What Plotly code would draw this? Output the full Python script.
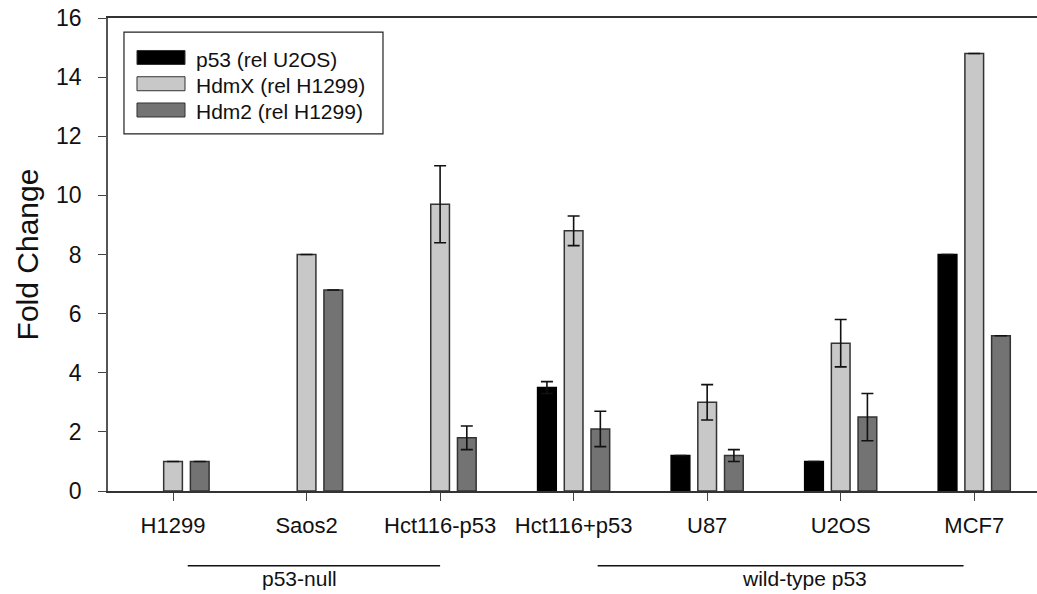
import plotly.graph_objects as go

# Cell lines and measured fold changes
cell_lines = ["H1299", "Saos2", "Hct116-p53", "Hct116+p53", "U87", "U2OS", "MCF7"]
series_names = ["p53 (rel U2OS)", "HdmX (rel H1299)", "Hdm2 (rel H1299)"]

p53_vals = [None, None, None, 3.5, 1.2, 1.0, 8.0]
p53_err = [None, None, None, 0.2, None, None, None]
hdmx_vals = [1.0, 8.0, 9.7, 8.8, 3.0, 5.0, 14.8]
hdmx_err = [None, None, 1.3, 0.5, 0.6, 0.8, None]
hdm2_vals = [1.0, 6.8, 1.8, 2.1, 1.2, 2.5, 5.25]
hdm2_err = [None, None, 0.4, 0.6, 0.2, 0.8, None]

y_ticks = [0, 2, 4, 6, 8, 10, 12, 14, 16]

# Groupings shown beneath the axis: (label, line start, line end, label centre)
# in category units
groups = [("p53-null", 0.11, 2.0, 0.948), ("wild-type p53", 3.18, 5.92, 4.73)]

colors = ["#000000", "#c8c8c8", "#737373"]
outline = ["#000000", "#333333", "#333333"]
values = [p53_vals, hdmx_vals, hdm2_vals]
errors = [p53_err, hdmx_err, hdm2_err]

FONT = "Liberation Sans, Arial, sans-serif"
x_idx = list(range(len(cell_lines)))

fig = go.Figure()
for name, vals, errs, col, ol in zip(series_names, values, errors, colors, outline):
    fig.add_trace(go.Bar(
        x=x_idx, y=vals, name=name,
        marker=dict(color=col, line=dict(color=ol, width=1.5)),
        error_y=dict(type="data", array=errs, visible=True,
                     color="#111111", thickness=1.6, width=6),
        showlegend=False,
    ))

shapes = []
annotations = []

# Group lines and labels under the categories
for label, x0, x1, xc in groups:
    shapes.append(dict(type="line", xref="x", yref="paper", x0=x0, x1=x1,
                       y0=-0.158, y1=-0.158, line=dict(color="#111111", width=1.6)))
    annotations.append(dict(xref="x", yref="paper", x=xc, y=-0.184,
                            text=label, showarrow=False, yanchor="middle",
                            borderpad=0,
                            font=dict(family=FONT, size=21, color="#111111")))

# Legend box with wide swatches
shapes.append(dict(type="rect", xref="paper", yref="paper",
                   x0=0.0172, x1=0.296, y0=0.755, y1=0.970,
                   line=dict(color="#222222", width=1.2), fillcolor="white"))
for i, (name, col) in enumerate(zip(series_names, colors)):
    yc = 0.9165 - i * 0.0555
    shapes.append(dict(type="rect", xref="paper", yref="paper",
                       x0=0.0312, x1=0.0829, y0=yc - 0.0148, y1=yc + 0.0148,
                       fillcolor=col, line=dict(color="#333333", width=1)))
    annotations.append(dict(xref="paper", yref="paper", x=0.0925, y=yc - 0.004,
                            text=name, showarrow=False, xanchor="left", yanchor="middle",
                            font=dict(family=FONT, size=21, color="#111111")))

fig.update_layout(
    width=1037, height=594,
    margin=dict(l=108, r=0, t=18, b=103),
    paper_bgcolor="white", plot_bgcolor="white",
    barmode="group", bargap=0.4, bargroupgap=0.3,
    font=dict(family=FONT, color="#111111"),
    shapes=shapes, annotations=annotations,
    xaxis=dict(
        range=[-0.487, 6.47], tickmode="array", tickvals=x_idx, ticktext=cell_lines,
        ticks="outside", ticklen=8, tickcolor="#444444", tickwidth=1,
        showline=True, linecolor="#333333", linewidth=2, mirror=True,
        showgrid=False, zeroline=False, ticklabelstandoff=6,
        tickfont=dict(family=FONT, size=22, color="#111111"),
    ),
    yaxis=dict(
        range=[0, 16], tickmode="array", tickvals=y_ticks,
        ticks="outside", ticklen=8, tickcolor="#444444", tickwidth=1,
        showline=True, linecolor="#555555", linewidth=1.5,
        showgrid=False, zeroline=False, ticklabelstandoff=12,
        tickfont=dict(family=FONT, size=23, color="#111111"),
        title=dict(text="Fold Change", font=dict(family=FONT, size=30, color="#111111"),
                   standoff=9),
    ),
)

fig.write_html("out.html")
